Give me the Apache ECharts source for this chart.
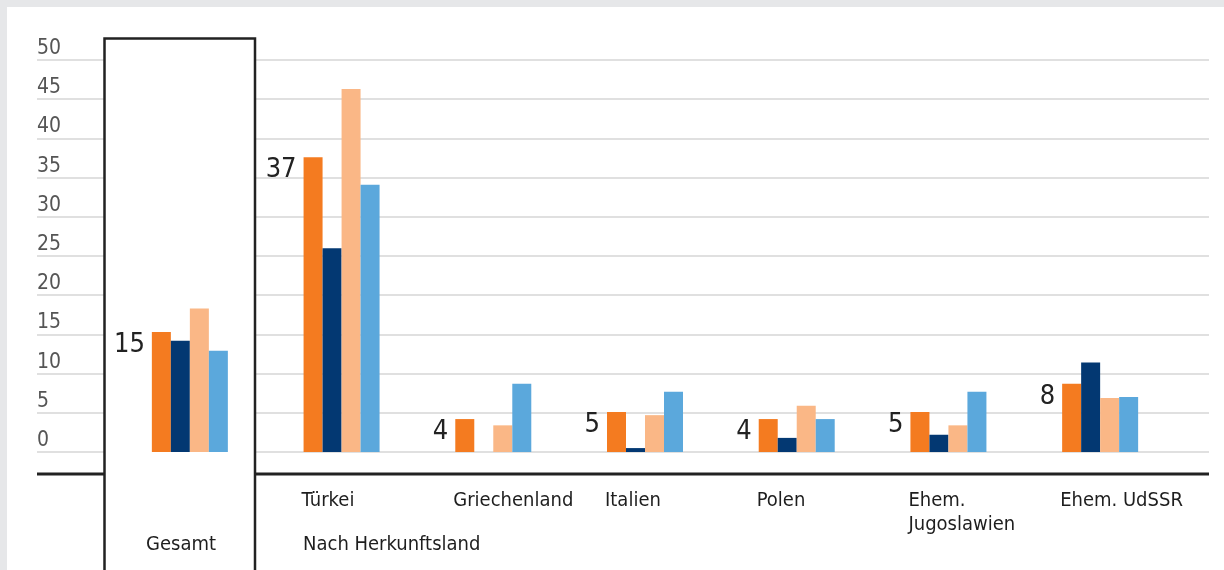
<!DOCTYPE html>
<html>
<head>
<meta charset="utf-8">
<script src="https://cdn.jsdelivr.net/npm/echarts@6/dist/echarts.min.js"></script>
<style>
  html, body { margin: 0; padding: 0; background: #e6e7e9; }
  #chart { position: absolute; left: 7px; top: 7px; width: 1217px; height: 563px; background: #fff; }
</style>
</head>
<body>
<div id="chart"></div>
<script>
var categories = ['Gesamt', 'Türkei', 'Griechenland', 'Italien', 'Polen', 'Ehem. Jugoslawien', 'Ehem. UdSSR'];
var serie1 = [15.3, 37.6, 4.2, 5.1, 4.2, 5.1, 8.7];
var serie2 = [14.2, 26.0, 0, 0.5, 1.8, 2.2, 11.4];
var serie3 = [18.3, 46.3, 3.4, 4.7, 5.9, 3.4, 6.9];
var serie4 = [12.9, 34.1, 8.7, 7.7, 4.2, 7.7, 7.0];
var valueLabels = [15, 37, 4, 5, 4, 5, 8];
var yMin = 0, yMax = 50, yStep = 5;

var farben = ['#f47b20', '#033872', '#fab786', '#5ba8dc'];
var schrift = '"DejaVu Sans Condensed", "DejaVu Sans", sans-serif';

function balken(name, data, farbe, mitLabel) {
	var s = {
		name: name,
		type: 'bar',
		zlevel: 2,
		xAxisIndex: 1,
		yAxisIndex: 1,
		barWidth: 19,
		barGap: '0%',
		itemStyle: { color: farbe },
		data: data,
	};
	if (mitLabel) {
		s.label = {
			show: true,
			position: [-7, 13],
			align: 'right',
			verticalAlign: 'middle',
			fontFamily: schrift,
			fontSize: 27,
			color: '#222',
			formatter: function (p) { return valueLabels[p.dataIndex]; },
		};
	}
	return s;
}

// schwarze Linie unter dem Diagramm, am Kasten "Gesamt" unterbrochen
var linie = { stroke: '#222', lineWidth: 3 };

var option = {
	animation: false,
	grid: [
		{ left: 30, right: 15, top: 53, height: 392 },   // Gitternetz ueber die ganze Breite
		{ left: 107, width: 1062, top: 53, height: 392 }, // Balken
	],
	xAxis: [
		{
			gridIndex: 0,
			type: 'value',
			min: 0,
			max: 1,
			show: false,
		},
		{
			gridIndex: 1,
			type: 'category',
			data: categories,
			axisLine: { show: false },
			axisTick: { show: false },
			axisLabel: {
				interval: 0,
				margin: 37,
				formatter: function (v, i) {
					if (i === 0) return '';
					if (v === 'Ehem. Jugoslawien') return '{a|Ehem.}\n{a|Jugoslawien}';
					return '{a|' + v + '}';
				},
				rich: {
					a: { width: 80, align: 'left', fontFamily: schrift, fontSize: 20, lineHeight: 24, color: '#1e1e1e' },
				},
			},
		},
	],
	yAxis: [
		{
			gridIndex: 0,
			type: 'value',
			min: yMin,
			max: yMax,
			interval: yStep,
			axisLine: { show: false },
			axisTick: { show: false },
			axisLabel: {
				inside: true,
				margin: 0,
				verticalAlign: 'bottom',
				padding: [0, 0, 1, 0],
				fontFamily: schrift,
				fontSize: 21,
				color: '#555',
			},
			splitLine: { lineStyle: { color: '#d6d6d6', width: 1.5 } },
		},
		{
			gridIndex: 1,
			type: 'value',
			min: yMin,
			max: yMax,
			show: false,
		},
	],
	graphic: [
		{
			type: 'rect',
			z: 1,
			shape: { x: 97.5, y: 31.5, width: 150.5, height: 600 },
			style: { fill: '#fff', stroke: '#222', lineWidth: 2.5 },
		},
		{ type: 'line', z: 1, shape: { x1: 30, y1: 467, x2: 97, y2: 467 }, style: linie },
		{ type: 'line', z: 1, shape: { x1: 248.5, y1: 467, x2: 1202, y2: 467 }, style: linie },
		{
			type: 'text',
			z: 2,
			x: 174,
			y: 538,
			style: { text: 'Gesamt', font: '20px ' + schrift, fill: '#1e1e1e', align: 'center', verticalAlign: 'middle' },
		},
		{
			type: 'text',
			z: 2,
			x: 296,
			y: 538,
			style: { text: 'Nach Herkunftsland', font: '20px ' + schrift, fill: '#1e1e1e', align: 'left', verticalAlign: 'middle' },
		},
	],
	series: [
		balken('Reihe 1', serie1, farben[0], true),
		balken('Reihe 2', serie2, farben[1], false),
		balken('Reihe 3', serie3, farben[2], false),
		balken('Reihe 4', serie4, farben[3], false),
	],
};

var myChart = echarts.init(document.getElementById('chart'));
myChart.setOption(option);
</script>
</body>
</html>
